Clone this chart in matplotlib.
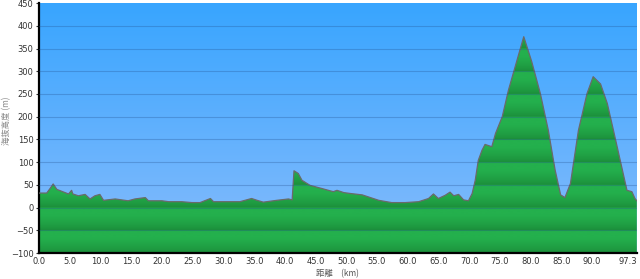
import numpy as np
import matplotlib
matplotlib.use('Agg')
import matplotlib.pyplot as plt
from matplotlib.colors import LinearSegmentedColormap, to_rgb

# Höhenprofil (km, m)
dist_km = [0.0, 1.25, 1.8, 2.3, 2.9, 4.8, 5.3, 5.5, 6.4, 7.5, 8.3, 9.1, 9.9, 10.5,
           12.4, 14.5, 15.6, 17.3, 17.8, 20.0, 21.1, 23.2, 24.9, 26.2, 27.9, 28.4,
           30.6, 32.7, 34.6, 35.5, 36.5, 38.7, 40.6, 41.2, 41.5, 42.2, 42.8, 44.1,
           46.3, 47.9, 48.5, 49.6, 50.7, 52.6, 55.3, 57.4, 59.6, 61.8, 63.4, 64.2,
           65.0, 66.1, 66.9, 67.5, 68.3, 69.1, 69.9, 70.5, 71.0, 71.5, 72.1, 72.6,
           73.7, 74.3, 75.4, 76.4, 77.5, 78.9, 80.2, 81.6, 82.9, 84.0, 84.9, 85.6,
           86.5, 87.8, 89.2, 90.2, 91.4, 92.5, 93.5, 94.6, 95.7, 96.5, 97.0, 97.3]
elev_m = [32, 32, 42, 52, 40, 30, 38, 30, 26, 29, 19, 26, 29, 16,
          19, 15, 19, 22, 15, 15, 13, 13, 11, 11, 20, 13,
          13, 13, 20, 16, 12, 16, 19, 17, 81, 75, 60, 49,
          41, 35, 38, 33, 31, 28, 16, 11, 11, 13, 20, 30,
          20, 27, 34, 26, 29, 17, 15, 31, 60, 104, 126, 139,
          134, 163, 200, 258, 310, 376, 321, 251, 170, 83, 28, 22,
          53, 170, 251, 288, 272, 229, 170, 104, 38, 35, 20, 15]

xticks = [0, 5, 10, 15, 20, 25, 30, 35, 40, 45, 50, 55, 60, 65, 70, 75, 80, 85, 90, 97.3]
yticks = list(range(-100, 451, 50))

x = np.array(dist_km)
y = np.array(elev_m)
ymin, ymax = -100, 450
xmax = 97.3

fig = plt.figure(figsize=(6.4, 2.79), dpi=100)
ax = fig.add_axes([0.061, 0.093, 0.934, 0.896])

# Himmel-Verlauf
sky = LinearSegmentedColormap.from_list('sky', ['#88bcfc', '#38a5ff'])
grad = np.linspace(0, 1, 256).reshape(-1, 1)
ax.imshow(grad, cmap=sky, aspect='auto', origin='lower',
          extent=[0, xmax, ymin, ymax], zorder=0)

# Gruen: in jedem 50m-Band oben hell, unten dunkel
rows = np.linspace(ymin, ymax, 1100)
frac = ((rows - ymin) % 50) / 50.0
light = np.array(to_rgb('#24b04d'))
dark = np.array(to_rgb('#1b8c39'))
img = dark[None, :] + (light - dark)[None, :] * np.clip(frac * 1.5, 0, 1)[:, None] ** 0.7
img = img[:, None, :]
poly = ax.fill_between(x, y, ymin, color='none', lw=0, zorder=1)
gimg = ax.imshow(img, aspect='auto', origin='lower',
                 extent=[0, xmax, ymin, ymax], zorder=2)
gimg.set_clip_path(poly.get_paths()[0], transform=ax.transData)
ax.plot(x, y, color='#6a6a6a', lw=0.9, zorder=3)

for t in yticks[1:-1]:
    ax.axhline(t, color='#23508f', alpha=0.3, lw=0.8, zorder=4)

ax.set_xlim(0, xmax)
ax.set_ylim(ymin, ymax)
ax.set_xticks(xticks)
ax.set_xticklabels([f'{v:.1f}' for v in xticks])
ax.get_xticklabels()[-1].set_ha('right')
ax.set_yticks(yticks)
ax.tick_params(axis='both', labelsize=6, colors='#333333', length=2, width=0.8, pad=2)
ax.tick_params(axis='x', length=0, pad=3)
for s in ['top', 'right']:
    ax.spines[s].set_visible(False)
ax.spines['left'].set_linewidth(1.6)
ax.spines['bottom'].set_linewidth(1.6)

jp = ['Noto Sans CJK JP', 'DejaVu Sans']
ax.set_ylabel('海抜高度 (m)', family=jp, fontsize=6, color='#888888')
ax.yaxis.set_label_coords(-0.047, 0.53)
ax.set_xlabel('距離\u3000(km)', family=jp, fontsize=6, color='#555555', labelpad=2)

plt.savefig('out.png', dpi=100)
